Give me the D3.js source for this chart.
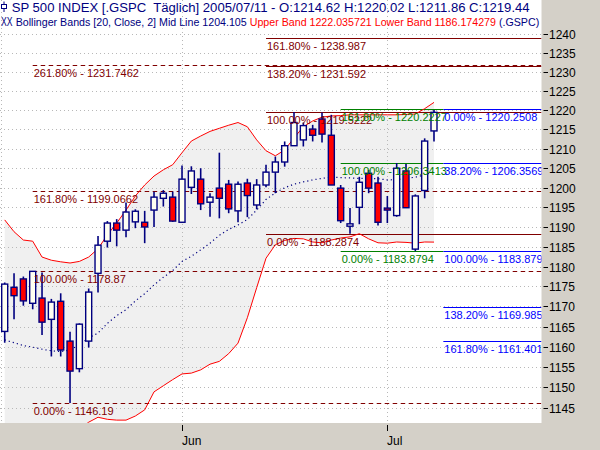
<!DOCTYPE html>
<html><head><meta charset="utf-8">
<script src="https://cdn.jsdelivr.net/npm/d3@7/dist/d3.min.js"></script>
<style>
body{margin:0;background:#d4d0c8;}
svg{display:block}
text{font-family:"Liberation Sans",Arial,sans-serif}
</style>
</head><body>
<svg id="c" width="600" height="450"></svg>
<script>
// ---------- data ----------
const dates = ["05-04","05-05","05-06","05-09","05-10","05-11","05-12","05-13","05-16","05-17","05-18","05-19","05-20","05-23","05-24","05-25","05-26","05-27","05-31",
  "06-01","06-02","06-03","06-06","06-07","06-08","06-09","06-10","06-13","06-14","06-15","06-16","06-17","06-20","06-21","06-22","06-23","06-24","06-27","06-28","06-29","06-30",
  "07-01","07-05","07-06","07-07","07-08","07-11"];
const monthNames = {"06":"Jun","07":"Jul"};
const openP  = [1163.8,1174.8,1176.9,1170.8,1172.1,1166.8,1171.3,1161.4,1154.6,1161.4,1178.3,1186.4,1191.0,1189.2,1191.3,1191.2,1194.3,1197.3,1197.6,
  1191.2,1200.1,1202.2,1196.3,1199.9,1200.9,1194.1,1201.2,1195.6,1200.7,1204.0,1206.6,1210.8,1212.3,1215.1,1217.7,1213.5,1199.9,1190.2,1195.0,1203.7,1201.2,
  1194.8,1192.9,1204.3,1184.4,1199.3,1214.62];
const highP  = [1176.0,1178.3,1177.5,1178.87,1178.5,1171.9,1173.3,1163.7,1165.8,1174.5,1187.7,1191.5,1192.0,1196.2,1194.5,1194.1,1199.0,1199.4,1199.0,
  1205.7,1205.5,1205.0,1198.6,1209.0,1202.0,1201.6,1202.3,1202.2,1205.9,1208.0,1211.9,1219.52,1216.8,1216.2,1219.4,1218.8,1200.7,1194.8,1202.8,1204.6,1202.8,
  1197.9,1206.34,1206.1,1198.3,1212.7,1220.02];
const lowP   = [1161.0,1166.8,1170.2,1169.3,1162.9,1157.6,1157.6,1146.19,1153.7,1159.8,1173.5,1184.8,1185.1,1187.4,1189.7,1185.9,1190.0,1195.2,1191.3,
  1191.0,1198.4,1194.3,1192.6,1192.2,1193.5,1191.2,1192.5,1194.5,1200.1,1198.6,1205.4,1210.8,1210.6,1211.9,1211.6,1200.7,1191.0,1188.29,1190.7,1198.6,1190.4,
  1191.0,1192.6,1194.8,1183.88,1197.3,1211.86];
const closeP = [1175.6,1172.7,1171.4,1178.8,1166.1,1171.1,1159.2,1154.0,1165.6,1173.6,1185.4,1191.0,1189.2,1193.8,1194.0,1190.0,1197.6,1198.6,1191.5,
  1202.2,1204.3,1195.9,1197.6,1197.3,1194.6,1200.9,1198.0,1200.7,1204.0,1206.6,1210.8,1216.8,1216.0,1213.5,1213.8,1200.7,1191.6,1190.8,1201.4,1199.9,1191.2,
  1194.3,1205.0,1194.9,1197.9,1212.0,1219.44];
const upperBand = [1191.8,1188.8,1186.7,1186.4,1182.4,1181.6,1181.2,1180.9,1181.3,1182.4,1184.5,1188.0,1191.0,1194.3,1197.9,1200.7,1203.0,1204.6,1205.9,
  1209.0,1212.0,1213.3,1214.5,1215.3,1216.1,1216.8,1215.7,1212.3,1209.5,1208.2,1209.7,1212.8,1215.7,1217.2,1218.2,1218.5,1218.6,1218.8,1218.8,1218.8,1218.8,
  1218.8,1218.8,1218.9,1219.0,1220.4,1222.035721];
const midBand = [1161.7,1161.0,1160.3,1159.9,1159.4,1159.0,1158.8,1159.2,1160.5,1162.2,1163.4,1165.8,1167.7,1169.2,1171.4,1173.2,1175.4,1177.3,1179.0,
  1181.3,1182.6,1184.2,1185.9,1187.9,1189.4,1190.5,1191.9,1194.3,1197.0,1198.7,1200.0,1200.9,1201.5,1202.0,1202.4,1202.7,1202.6,1202.5,1202.4,1202.4,1202.3,
  1202.0,1202.1,1202.4,1202.7,1203.3,1204.105];
const lowerBand = [1131.6,1133.2,1133.9,1133.4,1136.4,1136.4,1136.4,1137.5,1139.7,1141.5,1142.7,1142.2,1142.0,1142.0,1143.0,1144.5,1148.9,1150.4,1151.9,
  1153.3,1153.5,1154.3,1155.7,1156.4,1158.3,1160.9,1167.2,1174.7,1182.1,1185.5,1186.6,1187.1,1187.0,1186.2,1186.0,1186.7,1187.2,1187.5,1188.3,1187.0,1186.0,
  1185.9,1186.2,1186.1,1185.9,1186.2,1186.174279];
const yTickValues = [1145,1150,1155,1160,1165,1170,1175,1180,1185,1190,1195,1200,1205,1210,1215,1220,1225,1230,1235,1240];

// Fibonacci studies
const fibApct = [261.8,161.8,100,0],      fibAval = [1231.7462,1199.0662,1178.87,1146.19];
const fibBpct = [161.8,138.2,100,0],      fibBval = [1238.987,1231.592,1219.5222,1188.2874];
const fibCpct = [161.8,100,0],            fibCval = [1220.2227,1206.3413,1183.8794];
const fibDpct = [0,38.2,100,138.2,161.8], fibDval = [1220.2508,1206.3569,1183.8794,1169.9856,1161.4019];
const fibStart = [3, 28, 36, 47];          // bar index where each study starts
const fibEnd   = [null, null, 47, null];   // null = right edge

const headerTitle = "SP 500 INDEX [.GSPC\u00a0 Täglich] 2005/07/11 - O:1214.62 H:1220.02 L:1211.86 C:1219.44";
const headerBB1 = "Bollinger Bands [20, Close, 2] Mid Line 1204.105 ";
const headerBB2 = "Upper Band 1222.035721 Lower Band 1186.174279 ";
const headerBB3 = "(.GSPC)";

// ---------- layout ----------
const W = 600, H = 450;
const PR = 541.5, PB = 423;
const svg = d3.select("#c");

const x = d3.scaleLinear().domain([0, 46]).range([4.7, 434]);
const y = d3.scaleLog().domain([1141.3, 1249]).range([PB, 0]);

svg.append("rect").attr("x",0).attr("y",0).attr("width",W).attr("height",H).attr("fill","#d4d0c8");
svg.append("rect").attr("x",0).attr("y",0).attr("width",PR).attr("height",PB).attr("fill","#ffffff");

svg.append("defs").append("clipPath").attr("id","pc")
  .append("rect").attr("x",0).attr("y",0).attr("width",PR).attr("height",PB);
const g = svg.append("g").attr("clip-path","url(#pc)");

const idx = d3.range(dates.length);

// band fill
g.append("path").datum(idx)
  .attr("d", d3.area().x(i=>x(i)).y0(i=>y(lowerBand[i])).y1(i=>y(upperBand[i])))
  .attr("fill","#f0f0f0");

// grid
const grid = g.append("g").attr("stroke","#b8b8b8").attr("stroke-width",1).attr("stroke-dasharray","1,3");
yTickValues.forEach(v=>{
  const yy = Math.round(y(v))+0.5;
  grid.append("line").attr("x1",0).attr("x2",PR).attr("y1",yy).attr("y2",yy);
});
const monthTicks = idx.filter(i => i>0 && dates[i].slice(0,2)!==dates[i-1].slice(0,2));
grid.append("line").attr("x1",1.5).attr("x2",1.5).attr("y1",0).attr("y2",PB);
monthTicks.forEach(i=>{
  const xx = Math.round(x(i))+0.5;
  grid.append("line").attr("x1",xx).attr("x2",xx).attr("y1",0).attr("y2",PB);
});

// fib lines
const fibSets = [
  {pct:fibApct, val:fibAval, color:"#800000", dash:"4.5,3.5"},
  {pct:fibBpct, val:fibBval, color:"#800000", dash:null},
  {pct:fibCpct, val:fibCval, color:"#008000", dash:null},
  {pct:fibDpct, val:fibDval, color:"#0000ff", dash:null}
];
fibSets.forEach((s,k)=>{
  const x1 = x(fibStart[k]);
  const x2 = fibEnd[k]===null ? PR : x(fibEnd[k]);
  s.val.forEach(v=>{
    const yy = Math.round(y(v))+0.5;
    const ln = g.append("line").attr("x1",x1).attr("x2",x2).attr("y1",yy).attr("y2",yy)
      .attr("stroke",s.color).attr("stroke-width",1.2);
    if (s.dash) ln.attr("stroke-dasharray",s.dash);
  });
});

// bands
g.append("path").datum(idx).attr("d", d3.line().x(i=>x(i)).y(i=>y(upperBand[i])))
  .attr("fill","none").attr("stroke","#ff0000").attr("stroke-width",1);
g.append("path").datum(idx).attr("d", d3.line().x(i=>x(i)).y(i=>y(lowerBand[i])))
  .attr("fill","none").attr("stroke","#ff0000").attr("stroke-width",1);
g.append("path").datum(idx).attr("d", d3.line().x(i=>x(i)).y(i=>y(midBand[i])))
  .attr("fill","none").attr("stroke","#000080").attr("stroke-width",1.2).attr("stroke-dasharray","1.2,3");

// candles
const cg = g.append("g");
idx.forEach(i=>{
  const cx = x(i);
  cg.append("line").attr("x1",cx).attr("x2",cx).attr("y1",y(highP[i])).attr("y2",y(lowP[i]))
    .attr("stroke","#000080").attr("stroke-width",1.6);
  const top = y(Math.max(openP[i],closeP[i])), bot = y(Math.min(openP[i],closeP[i]));
  cg.append("rect").attr("x",cx-3).attr("y",top).attr("width",6).attr("height",Math.max(1.5,bot-top))
    .attr("fill", closeP[i]>=openP[i] ? "#fffff2" : "#ff0000")
    .attr("stroke","#000080").attr("stroke-width",1.4);
});

// fib labels
const fmtPct = d3.format(".2f");
fibSets.forEach((s,k)=>{
  const x1 = x(fibStart[k]);
  s.val.forEach((v,j)=>{
    g.append("text").attr("x",x1+1).attr("y",y(v)+12)
      .attr("font-size","11px").attr("fill",s.color)
      .text(fmtPct(s.pct[j])+"% - "+String(v));
  });
});

// header
const h1 = svg.append("text").attr("x",11.7).attr("y",11.5).attr("font-size","12px").attr("fill","#000080").text(headerTitle);
const ic = svg.append("g").attr("stroke","#000080").attr("fill","none").attr("stroke-width",1);
ic.append("line").attr("x1",4).attr("x2",4).attr("y1",1.5).attr("y2",12);
ic.append("rect").attr("x",1.5).attr("y",4.5).attr("width",5).attr("height",4).attr("fill","#ffffff");
svg.append("text").attr("x",1).attr("y",25.5).attr("font-size","12px").attr("fill","#000080")
  .attr("textLength",11.5).attr("lengthAdjust","spacingAndGlyphs").text("XX");
const h2 = svg.append("text").attr("x",15.7).attr("y",25.5).attr("font-size","12px");
h2.append("tspan").attr("fill","#000080").text(headerBB1);
h2.append("tspan").attr("fill","#ff0000").text(headerBB2);
h2.append("tspan").attr("fill","#000080").text(headerBB3);
function fit(t, target){
  const L = t.node().getComputedTextLength();
  if (L>0){ const fs = Math.max(10.5, Math.min(13.5, 12*target/L)); t.attr("font-size", fs+"px"); }
}
fit(h1, 518);
fit(h2, 524);

// y axis
const ya = svg.append("g");
yTickValues.forEach(v=>{
  const yy = Math.round(y(v))+0.5;
  ya.append("line").attr("x1",543.5).attr("x2",548).attr("y1",yy).attr("y2",yy).attr("stroke","#000").attr("stroke-width",1);
  ya.append("text").attr("x",549).attr("y",yy).attr("dy","0.36em").attr("font-size","12px").attr("fill","#000").text(v);
});

// x axis
const xa = svg.append("g");
monthTicks.forEach(i=>{
  const xx = Math.round(x(i))+0.5;
  xa.append("line").attr("x1",xx).attr("x2",xx).attr("y1",425).attr("y2",431).attr("stroke","#000");
  xa.append("text").attr("x",xx-0.5).attr("y",445).attr("font-size","12px").attr("fill","#000").text(monthNames[dates[i].slice(0,2)]);
});
</script>
</body></html>
